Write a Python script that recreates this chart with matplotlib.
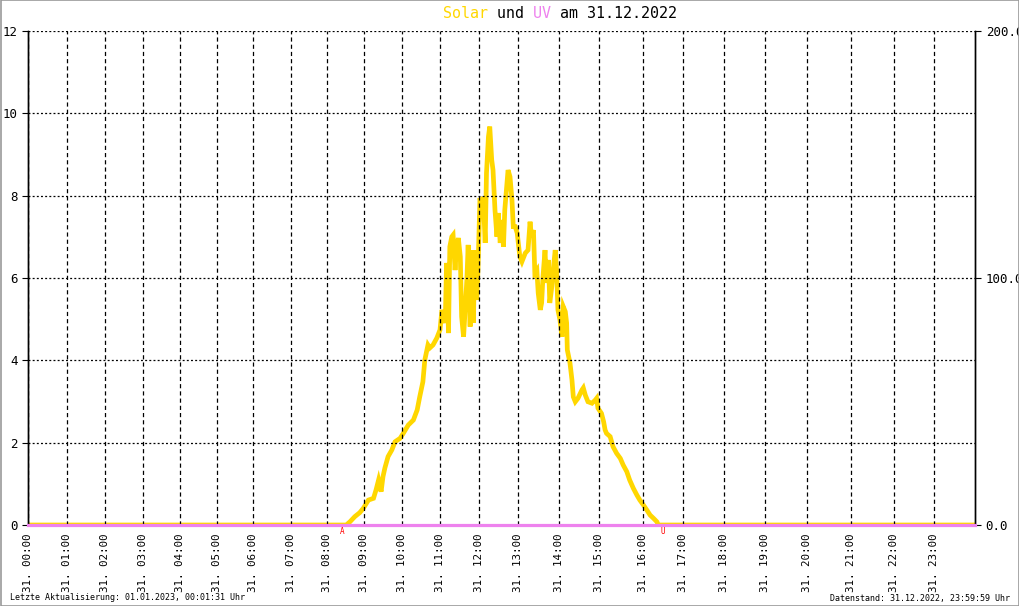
import numpy as np
import matplotlib
matplotlib.use("Agg")
import matplotlib.pyplot as plt
from matplotlib.patches import Rectangle

# === DATA ===
solar_times = ["00:00", "08:31", "08:37", "08:45", "08:53", "08:59", "09:07", "09:15", "09:19",
               "09:23", "09:27", "09:30", "09:33", "09:38", "09:44", "09:49", "09:57", "10:02",
               "10:10", "10:18", "10:24", "10:28", "10:33", "10:36", "10:41", "10:44", "10:49",
               "10:55", "11:00", "11:03", "11:08", "11:10", "11:13", "11:15", "11:18", "11:20",
               "11:23", "11:25", "11:28", "11:31", "11:33", "11:36", "11:41", "11:43", "11:46",
               "11:48", "11:51", "11:53", "11:56", "11:58", "12:01", "12:04", "12:06", "12:09",
               "12:11", "12:14", "12:16", "12:19", "12:21", "12:24", "12:27", "12:29", "12:32",
               "12:34", "12:37", "12:39", "12:42", "12:44", "12:47", "12:50", "12:52", "12:55",
               "12:58", "13:02", "13:05", "13:10", "13:14", "13:17", "13:19", "13:22", "13:24",
               "13:27", "13:29", "13:32", "13:34", "13:36", "13:39", "13:41", "13:44", "13:46",
               "13:49", "13:51", "13:54", "13:56", "13:58", "14:01", "14:04", "14:06", "14:09",
               "14:11", "14:12", "14:16", "14:19", "14:21", "14:24", "14:28", "14:34", "14:36",
               "14:39", "14:43", "14:49", "14:54", "14:56", "14:58", "15:03", "15:06", "15:08",
               "15:10", "15:15", "15:19", "15:24", "15:29", "15:33", "15:38", "15:42", "15:47",
               "15:52", "15:56", "16:01", "16:06", "16:11", "16:16", "16:21", "16:23", "24:00"]
solar_wm2 = [0.0, 0.0, 1.3, 3.4, 5.0, 6.8, 10.1, 10.8, 14.2,
             18.2, 13.5, 19.6, 23.1, 27.7, 30.4, 33.7, 35.1, 37.1,
             40.5, 42.5, 46.6, 51.9, 58.0, 66.8, 72.9, 71.7, 72.9,
             75.7, 79.0, 87.1, 81.8, 106.1, 77.7, 112.7, 116.7, 117.4,
             103.2, 111.3, 116.2, 108.6, 84.3, 76.2, 99.2, 113.4, 80.3,
             111.3, 81.8, 111.3, 91.1, 103.2, 132.4, 128.9, 132.9, 114.2,
             142.5, 157.2, 161.3, 147.8, 143.7, 127.5, 116.7, 126.3, 114.2,
             123.5, 112.7, 127.5, 137.0, 143.7, 141.0, 131.6, 120.8, 120.8,
             118.2, 108.6, 106.6, 110.1, 111.3, 122.8, 116.7, 119.4, 102.0,
             103.2, 93.9, 87.1, 89.9, 100.5, 111.3, 98.0, 107.3, 89.9,
             96.5, 103.2, 111.3, 103.2, 87.1, 83.0, 76.2, 88.4, 86.4,
             81.8, 70.9, 65.6, 58.7, 51.9, 49.9, 51.3, 54.7, 55.5,
             52.6, 49.9, 49.3, 50.6, 51.3, 47.3, 45.2, 41.8, 38.5,
             37.1, 35.8, 31.7, 29.0, 27.0, 24.3, 21.6, 18.2, 14.9,
             12.1, 10.1, 8.1, 6.1, 4.0, 2.7, 1.3, 0.0, 0.0]
uv_times = ["00:00", "24:00"]
uv_index = [0.0, 0.0]
sunrise = "08:24"
sunset = "16:30"
hour_labels = ["31. %02d:00" % h for h in range(24)]

# === LAYOUT ===
W, H = 1020, 606
# pixel position of each full hour on the time axis (axis is not evenly spaced)
hour_px = [28.3, 66.7, 104.7, 142.7, 180.0, 216.7, 253.3, 290.7, 327.3, 364.0, 402.0,
           440.0, 479.3, 518.5, 559.3, 599.3, 642.7, 683.3, 724.0, 765.3, 807.3,
           851.3, 894.0, 934.0, 975.3]
GOLD = "#FFD700"
VIOLET = "#EE82EE"
MONO = "DejaVu Sans Mono"


def to_hours(t):
    return int(t[:2]) + int(t[3:]) / 60.0


hrs = np.arange(25)
fwd = lambda h: np.interp(h, hrs, hour_px)
inv = lambda p: np.interp(p, hour_px, hrs)

plt.rcParams['font.family'] = MONO
plt.rcParams['lines.scale_dashes'] = False

fig = plt.figure(figsize=(W / 100, H / 100), dpi=100)
left, right, top, bottom = 28.3, 975.3, 31, 525
ax = fig.add_axes([left / W, 1 - bottom / H, (right - left) / W, (bottom - top) / H])
ax2 = ax.twinx()

# solar on the right axis, drawn underneath
ax2.plot([to_hours(t) for t in solar_times], solar_wm2, color=GOLD, lw=3.4,
         solid_joinstyle='miter', zorder=2)
ax2.set_ylim(0, 200)
ax2.set_yticks([0, 100, 200])
ax2.set_yticklabels(["0.0", "100.0", "200.0"])

ax.set_zorder(ax2.get_zorder() + 1)
ax.patch.set_visible(False)
ax.plot([to_hours(t) for t in uv_times], uv_index, color=VIOLET, lw=2.3, zorder=3,
        clip_on=False)
ax.set_ylim(0, 12)
ax.set_yticks(range(0, 13, 2))

ax.set_xscale('function', functions=(fwd, inv))
ax.set_xlim(0, 24)
ax.set_xticks(range(24))
ax.set_xticklabels(hour_labels, rotation=90)
ax.xaxis.grid(True, color='black', lw=0.9, linestyle=(0, (3.0, 2.2)))
ax.yaxis.grid(True, color='black', lw=0.9, linestyle=(0, (1.4, 1.6)))
ax.set_axisbelow(False)

for a in (ax, ax2):
    a.spines['top'].set_visible(False)
    a.spines['left'].set_linewidth(1.0)
    a.spines['right'].set_linewidth(1.0)
    a.spines['bottom'].set_visible(False)
ax.tick_params(axis='y', length=4.5, width=0.8, pad=3, labelsize=9)
ax.tick_params(axis='x', length=0, pad=6, labelsize=7.8)
ax2.tick_params(axis='y', length=4.5, width=0.8, pad=3, labelsize=9)

# sunrise / sunset markers
for t, lab in ((sunrise, "A"), (sunset, "U")):
    ax.annotate(lab, (to_hours(t), 0), xytext=(0, -6), textcoords='offset pixels',
                ha='center', va='center', color='red', fontsize=5.5)

# title in three colours (monospace, aligned by padding with spaces)
title = "Solar und UV am 31.12.2022"
tx, ty = 443 / W, 1 - 13 / H
fig.text(tx, ty, "Solar", color=GOLD, fontsize=10.8, va='center', ha='left')
fig.text(tx, ty, "          UV", color=VIOLET, fontsize=10.8, va='center', ha='left')
fig.text(tx, ty, "      und    am 31.12.2022", color='black', fontsize=10.8,
         va='center', ha='left')

fig.text(10 / W, 1 - 598 / H, "Letzte Aktualisierung: 01.01.2023, 00:01:31 Uhr",
         fontsize=6, va='center', ha='left')
fig.text(1010 / W, 1 - 598 / H, "Datenstand: 31.12.2022, 23:59:59 Uhr",
         fontsize=6, va='center', ha='right')

# thin grey frame round the image
fig.add_artist(Rectangle((0.0005, 0.0008), 0.999, 0.9984, transform=fig.transFigure,
                         fill=False, edgecolor='#999999', lw=1.2))

fig.savefig("out.png", dpi=100)
